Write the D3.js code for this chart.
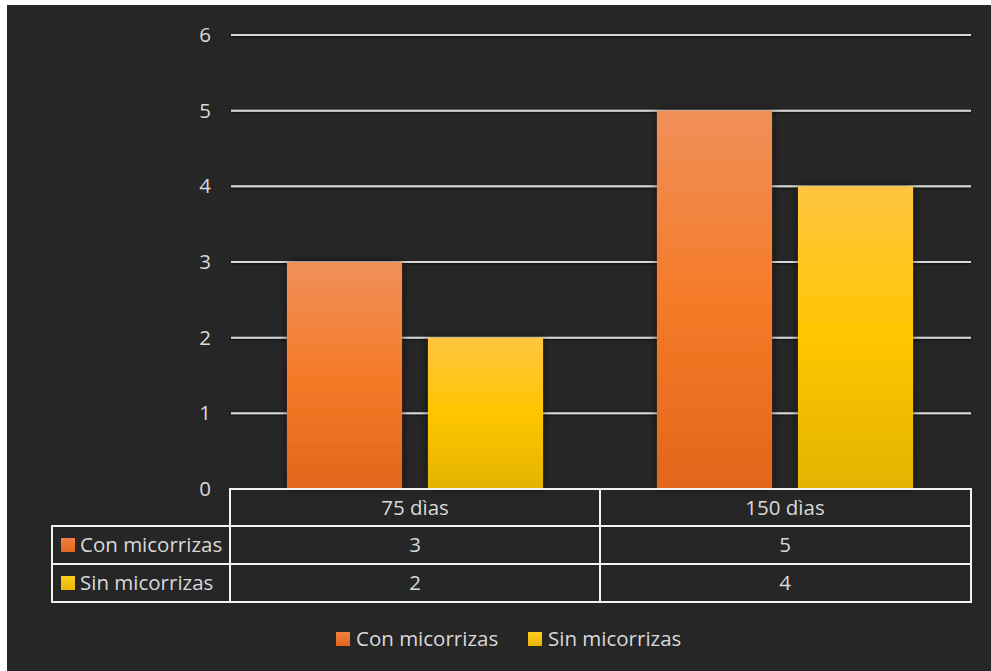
<!DOCTYPE html>
<html><head><meta charset="utf-8">
<script src="https://cdn.jsdelivr.net/npm/d3@7"></script>
<style>
html,body{margin:0;padding:0;background:#fff;}
svg{display:block;}
text{font-family:"Open Sans","Noto Sans",sans-serif;fill:#d9d9d9;}
</style></head><body>
<script>
const categories = ["75 dìas", "150 dìas"];
const seriesNames = ["Con micorrizas", "Sin micorrizas"];
const conMicorrizas = [3, 5];
const sinMicorrizas = [2, 4];
const yTicks = [0, 1, 2, 3, 4, 5, 6];

const W = 991, H = 671, FS = 20.5;
const svg = d3.select("body").append("svg").attr("width", W).attr("height", H);
const defs = svg.append("defs");

svg.append("rect").attr("x", 0).attr("y", 0).attr("width", W).attr("height", H).attr("fill", "#ffffff");
svg.append("rect").attr("x", 7).attr("y", 5).attr("width", W - 7).attr("height", H - 5).attr("fill", "#262626");

const gradDefs = [
  {id: "gOrange", stops: [["0%", "#f08f5a"], ["50%", "#f57b28"], ["100%", "#e2661a"]]},
  {id: "gYellow", stops: [["0%", "#ffc540"], ["50%", "#ffc600"], ["100%", "#e2b300"]]}
];
gradDefs.forEach(g => {
  const lg = defs.append("linearGradient").attr("id", g.id).attr("x1", 0).attr("y1", 0).attr("x2", 0).attr("y2", 1);
  g.stops.forEach(s => lg.append("stop").attr("offset", s[0]).attr("stop-color", s[1]));
});
const sh = defs.append("filter").attr("id", "shadow").attr("x", "-20%").attr("y", "-10%").attr("width", "140%").attr("height", "120%");
sh.append("feDropShadow").attr("dx", 0).attr("dy", 0).attr("stdDeviation", 4).attr("flood-color", "#000").attr("flood-opacity", 0.6);
const gsh = defs.append("filter").attr("id", "gshadow").attr("x", "-5%").attr("y", "-200%").attr("width", "110%").attr("height", "500%");
gsh.append("feDropShadow").attr("dx", 0).attr("dy", 1).attr("stdDeviation", 1).attr("flood-color", "#000").attr("flood-opacity", 0.7);

const plotL = 231, plotR = 971, plotT = 35, plotB = 489;
const y = d3.scaleLinear().domain([0, 6]).range([plotB, plotT]);
const x0 = d3.scaleBand().domain(categories).range([plotL - 1, plotR - 1]).paddingInner(0).paddingOuter(0);
const x1 = d3.scaleBand().domain(seriesNames).range([0, x0.bandwidth()]).paddingInner(0.184).paddingOuter(0.404);

const colors = {"Con micorrizas": "url(#gOrange)", "Sin micorrizas": "url(#gYellow)"};
const keyColors = {"Con micorrizas": ["#f28040", "#e2661a"], "Sin micorrizas": ["#ffcc22", "#e8b600"]};

const grid = svg.append("g").attr("filter", "url(#gshadow)");
grid.selectAll("line").data(yTicks.filter(d => d > 0)).join("line")
  .attr("x1", plotL).attr("x2", plotR)
  .attr("y1", d => y(d)).attr("y2", d => y(d))
  .attr("stroke", "#d9d9d9").attr("stroke-width", 2);

const yAxis = d3.axisLeft(y).tickValues(yTicks).tickSize(0).tickPadding(0).tickFormat(d3.format("d"));
const ya = svg.append("g").attr("transform", `translate(${plotL - 20},0)`).call(yAxis);
ya.select(".domain").remove();
ya.selectAll("text").attr("font-size", FS).attr("fill", "#d9d9d9").attr("font-family", "'Open Sans', sans-serif").attr("dy", "0.32em");

const data = categories.map((c, i) => ({cat: c, vals: [
  {name: seriesNames[0], v: conMicorrizas[i]},
  {name: seriesNames[1], v: sinMicorrizas[i]}
]}));
const groups = svg.append("g").selectAll("g").data(data).join("g")
  .attr("transform", d => `translate(${x0(d.cat)},0)`);
groups.selectAll("rect").data(d => d.vals).join("rect")
  .attr("x", d => x1(d.name)).attr("width", x1.bandwidth())
  .attr("y", d => y(d.v)).attr("height", d => y(0) - y(d.v))
  .attr("fill", d => colors[d.name]).attr("filter", "url(#shadow)");

const tblL = 52, rowY = [489, 526, 564, 602];
const tbl = svg.append("g");
const lineC = "#f2f2f2", lw = 2;
tbl.append("line").attr("x1", plotL - 1).attr("x2", plotR).attr("y1", rowY[0]).attr("y2", rowY[0]).attr("stroke", lineC).attr("stroke-width", lw);
[1, 2, 3].forEach(i => {
  tbl.append("line").attr("x1", tblL).attr("x2", plotR).attr("y1", rowY[i]).attr("y2", rowY[i]).attr("stroke", lineC).attr("stroke-width", lw);
});
const vx = [plotL - 1, x0(categories[1]), plotR];
vx.forEach(v => tbl.append("line").attr("x1", v).attr("x2", v).attr("y1", rowY[0] - 1).attr("y2", rowY[3] + 1).attr("stroke", lineC).attr("stroke-width", lw));
tbl.append("line").attr("x1", tblL).attr("x2", tblL).attr("y1", rowY[1] - 1).attr("y2", rowY[3] + 1).attr("stroke", lineC).attr("stroke-width", lw);

tbl.selectAll("text.hdr").data(categories).join("text").attr("class", "hdr")
  .attr("x", d => x0(d) + x0.bandwidth() / 2).attr("y", (rowY[0] + rowY[1]) / 2).attr("dy", "0.35em")
  .attr("text-anchor", "middle").attr("font-size", FS).text(d => d);
const rows = [conMicorrizas, sinMicorrizas];
rows.forEach((vals, r) => {
  const cy = (rowY[r + 1] + rowY[r + 2]) / 2;
  tbl.selectAll(`text.r${r}`).data(vals).join("text").attr("class", `r${r}`)
    .attr("x", (d, i) => x0(categories[i]) + x0.bandwidth() / 2).attr("y", cy).attr("dy", "0.35em")
    .attr("text-anchor", "middle").attr("font-size", FS).text(d => d);
  const k = keyColors[seriesNames[r]];
  const kg = defs.append("linearGradient").attr("id", "k" + r).attr("x1", 0).attr("y1", 0).attr("x2", 0).attr("y2", 1);
  kg.append("stop").attr("offset", "0%").attr("stop-color", k[0]);
  kg.append("stop").attr("offset", "100%").attr("stop-color", k[1]);
  tbl.append("rect").attr("x", 61).attr("y", cy - 7).attr("width", 14).attr("height", 14).attr("fill", `url(#k${r})`);
  tbl.append("text").attr("x", 80).attr("y", cy).attr("dy", "0.35em").attr("font-size", FS).text(seriesNames[r]);
});

const legX = [336, 528];
const leg = svg.append("g");
seriesNames.forEach((s, i) => {
  leg.append("rect").attr("x", legX[i]).attr("y", 632).attr("width", 14).attr("height", 14).attr("fill", `url(#k${i})`);
  leg.append("text").attr("x", legX[i] + 20).attr("y", 639).attr("dy", "0.35em").attr("font-size", FS).text(s);
});
</script>
</body></html>
